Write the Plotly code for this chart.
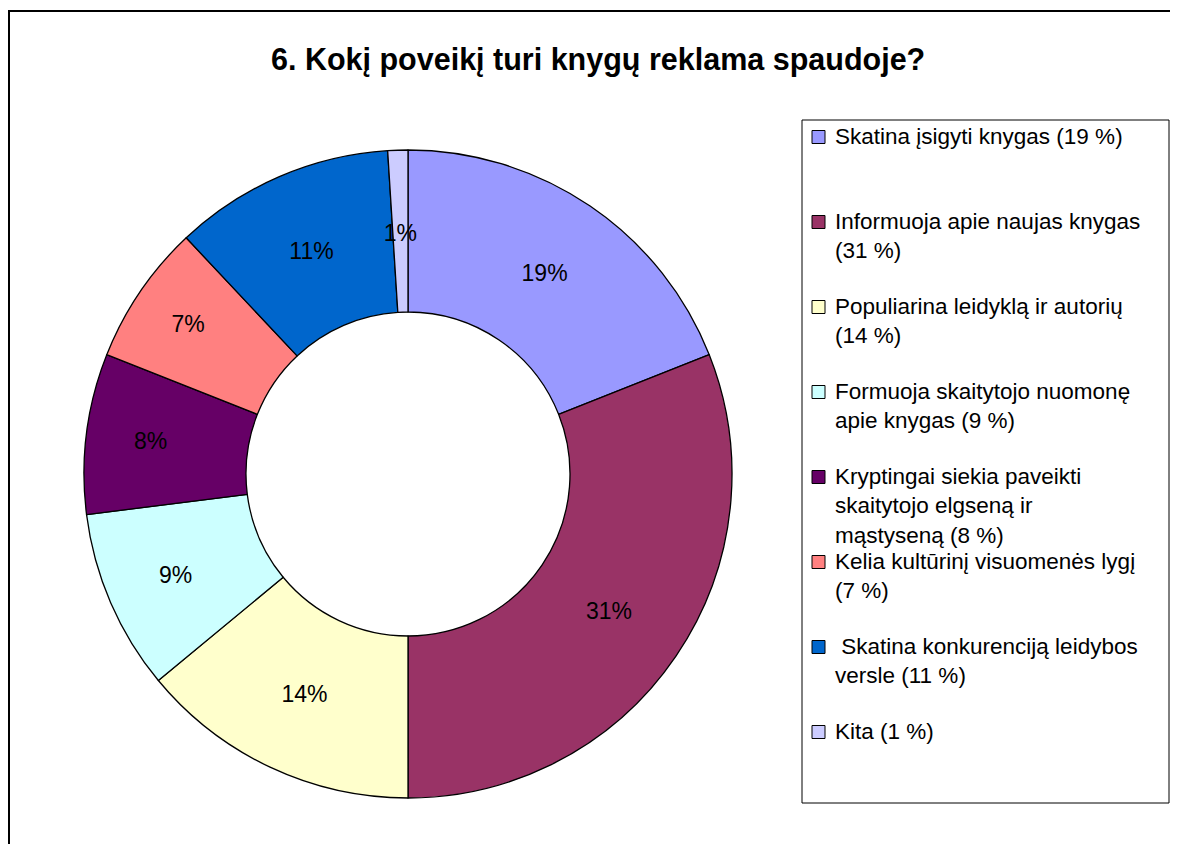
import plotly.graph_objects as go

title = "6. Kokį poveikį turi knygų reklama spaudoje?"
categories = [
    "Skatina įsigyti knygas",
    "Informuoja apie naujas knygas",
    "Populiarina leidyklą ir autorių",
    "Formuoja skaitytojo nuomonę apie knygas",
    "Kryptingai siekia paveikti skaitytojo elgseną ir mąstyseną",
    "Kelia kultūrinį visuomenės lygį",
    "Skatina konkurenciją leidybos versle",
    "Kita",
]
legend_labels = [
    "Skatina įsigyti knygas (19 %)",
    "Informuoja apie naujas knygas<br>(31 %)",
    "Populiarina leidyklą ir autorių<br>(14 %)",
    "Formuoja skaitytojo nuomonę<br>apie knygas (9 %)",
    "Kryptingai siekia paveikti<br>skaitytojo elgseną ir<br>mąstyseną (8 %)",
    "Kelia kultūrinį visuomenės lygį<br>(7 %)",
    "\u00a0Skatina konkurenciją leidybos<br>versle (11 %)",
    "Kita (1 %)",
]
values = [19, 31, 14, 9, 8, 7, 11, 1]
colors = ["#9999FF", "#993366", "#FFFFCC", "#CCFFFF", "#660066", "#FF8080", "#0066CC", "#CCCCFF"]

W, H = 1178, 844
OFF = 8  # page body margin
FONT = "Liberation Sans, Arial, sans-serif"

def px(x):
    return (x - OFF) / W

def py(y):
    return 1 - (y - OFF) / H

cx, cy, R = 408, 474, 324
R_small = 249  # text-only overlay radius for the thin slice label

small = [v < 3 for v in values]
main_tt = ["" if s else "%{value}%" for s in small]
small_tt = ["%{value}%" if s else "" for s in small]

fig = go.Figure()
fig.add_trace(go.Pie(
    labels=categories,
    values=values,
    sort=False,
    direction="clockwise",
    rotation=0,
    hole=0.5,
    marker=dict(colors=colors, line=dict(color="black", width=1.3)),
    texttemplate=main_tt,
    textposition="inside",
    insidetextorientation="horizontal",
    textfont=dict(family=FONT, size=23, color="black"),
    domain=dict(x=[px(cx - R), px(cx + R)], y=[py(cy + R), py(cy - R)]),
    showlegend=False,
    hoverinfo="label+percent",
))
fig.add_trace(go.Pie(
    labels=categories,
    values=values,
    sort=False,
    direction="clockwise",
    rotation=0,
    hole=0,
    marker=dict(colors=["rgba(0,0,0,0)"] * len(values), line=dict(width=0)),
    texttemplate=small_tt,
    textposition="inside",
    insidetextorientation="horizontal",
    textfont=dict(family=FONT, size=23, color="black"),
    domain=dict(x=[px(cx - R_small), px(cx + R_small)], y=[py(cy + R_small), py(cy - R_small)]),
    showlegend=False,
    hoverinfo="skip",
))

shapes = []
annotations = []

# outer chart frame
shapes.append(dict(type="rect", xref="paper", yref="paper",
                   x0=px(9), y0=-0.05, x1=1.05, y1=py(11),
                   line=dict(color="black", width=2), fillcolor="rgba(0,0,0,0)"))
# legend box
shapes.append(dict(type="rect", xref="paper", yref="paper",
                   x0=px(802), y0=py(803), x1=px(1169), y1=py(120),
                   line=dict(color="black", width=1), fillcolor="rgba(0,0,0,0)"))

annotations.append(dict(text="<b>" + title + "</b>", x=px(598), y=py(60), xref="paper", yref="paper",
                        showarrow=False, xanchor="center", yanchor="middle",
                        font=dict(family=FONT, size=30.5, color="black")))

first_y = 137
step = 85
for i, (lab, col) in enumerate(zip(legend_labels, colors)):
    yc = first_y + i * step
    shapes.append(dict(type="rect", xref="paper", yref="paper",
                       x0=px(812), x1=px(825), y0=py(yc + 6.5), y1=py(yc - 6.5),
                       fillcolor=col, line=dict(color="black", width=1)))
    annotations.append(dict(text=lab, x=px(833), y=py(yc - 15), xref="paper", yref="paper",
                            showarrow=False, xanchor="left", yanchor="top", align="left",
                            font=dict(family=FONT, size=22.5, color="black")))

fig.update_layout(
    width=W, height=H,
    margin=dict(l=0, r=0, t=0, b=0),
    paper_bgcolor="white", plot_bgcolor="white",
    shapes=shapes,
    annotations=annotations,
    uniformtext=dict(minsize=23, mode="show"),
)

fig.write_html("out.html")
